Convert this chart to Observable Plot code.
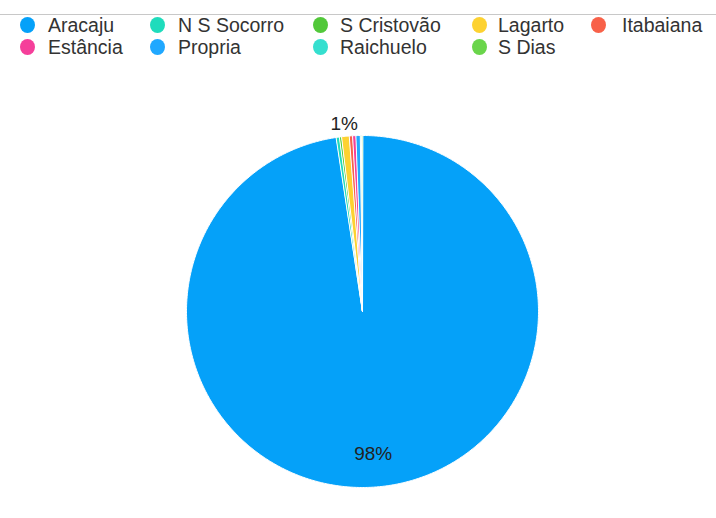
<!DOCTYPE html>
<html>
<head>
<meta charset="utf-8">
<script src="https://cdn.jsdelivr.net/npm/d3@7"></script>
<script src="https://cdn.jsdelivr.net/npm/@observablehq/plot@0.6"></script>
<style>
  html, body { margin: 0; padding: 0; background: #fff; }
  body { width: 716px; height: 518px; overflow: hidden; font-family: "Liberation Sans", Arial, sans-serif; }
  #legend { position: relative; height: 60px; width: 716px; }
  #legend .rule { position: absolute; left: 0; top: 14px; width: 716px; height: 1px; background: #c8c8c8; }
  #legend .item { position: absolute; display: flex; align-items: center; height: 22px; font-size: 19.5px; color: #333; white-space: nowrap; }
  #legend .dot { width: 15px; height: 16px; border-radius: 50%; position: absolute; }
  #chart svg { display: block; }
</style>
</head>
<body>
<div id="legend"><div class="rule"></div></div>
<div id="chart"></div>
<script>
const names = ["Aracaju", "N S Socorro", "S Cristovão", "Lagarto", "Itabaiana", "Estância", "Propria", "Raichuelo", "S Dias"];
const values = [97.6, 0.3, 0.2, 0.7, 0.3, 0.3, 0.4, 0.1, 0.1];
const colors = ["#05a1f9", "#1fdcbc", "#52c83a", "#fdd231", "#f86149", "#f53f9a", "#20a8ff", "#35dfcf", "#6ad54b"];

// legend layout (columns / rows as in the reference)
const legendDotX = [27, 157, 320, 479, 598];
const legendTextX = [48, 178, 340, 498, 622];
const legendRowY = [25, 47];

const legend = document.getElementById("legend");
names.forEach((n, i) => {
  const col = i % 5, row = Math.floor(i / 5);
  const dot = document.createElement("div");
  dot.className = "dot";
  dot.style.background = colors[i];
  dot.style.left = (legendDotX[col] - 7.5) + "px";
  dot.style.top = (legendRowY[row] - 8) + "px";
  legend.appendChild(dot);
  const t = document.createElement("div");
  t.className = "item";
  t.textContent = n;
  t.style.left = legendTextX[col] + "px";
  t.style.top = (legendRowY[row] - 11) + "px";
  legend.appendChild(t);
});

// pie geometry via d3.pie (angles clockwise from 12 o'clock)
const total = d3.sum(values);
const arcs = d3.pie().sort(null).value(d => d)(values);
const pts = [];
arcs.forEach((a, i) => {
  pts.push({name: names[i], x: 0, y: 0});
  const steps = Math.max(2, Math.ceil((a.endAngle - a.startAngle) / (Math.PI / 360)));
  for (let k = 0; k <= steps; k++) {
    const t = a.startAngle + (a.endAngle - a.startAngle) * k / steps;
    pts.push({name: names[i], x: Math.sin(t), y: Math.cos(t)});
  }
});
const labels = [];
arcs.forEach((a, i) => {
  const pct = Math.round(values[i] / total * 100);
  if (pct < 1) return;
  const mid = (a.startAngle + a.endAngle) / 2;
  const r = values[i] / total > 0.05 ? 0.81 : 1.07;
  labels.push({text: pct + "%", x: r * Math.sin(mid), y: r * Math.cos(mid)});
});

const W = 716, H = 458, R = 176, cx = 362, cy = 251;
const chart = Plot.plot({
  width: W, height: H,
  margin: 0,
  x: {domain: [-cx / R, (W - cx) / R], axis: null},
  y: {domain: [-(H - cy) / R, cy / R], axis: null},
  color: {domain: names, range: colors},
  marks: [
    Plot.line(pts, {x: "x", y: "y", z: "name", fill: "name", stroke: "white", strokeWidth: 1, curve: "linear-closed"}),
    Plot.text(labels, {x: "x", y: "y", text: "text", fill: "#222", fontSize: 19, fontFamily: "Liberation Sans, Arial, sans-serif"})
  ]
});
document.getElementById("chart").appendChild(chart);
</script>
</body>
</html>
